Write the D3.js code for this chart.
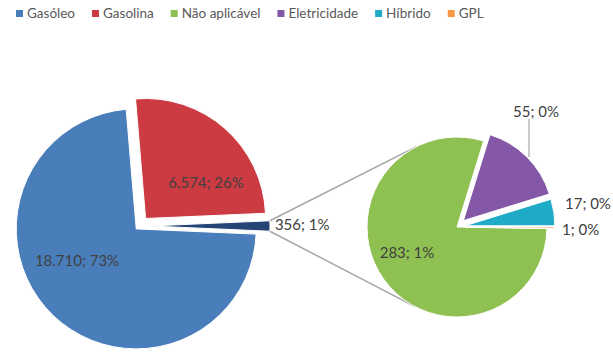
<!DOCTYPE html>
<html><head><meta charset="utf-8">
<script src="https://cdn.jsdelivr.net/npm/d3@7"></script>
<style>body{margin:0;background:#fff} text{font-family:Lato,"Open Sans",sans-serif}</style>
</head><body><svg id="c" width="613" height="364"></svg>
<script>
// ---- data ----
const categories = ["Gasóleo","Gasolina","Não aplicável","Eletricidade","Híbrido","GPL"];
const values = [18710, 6574, 283, 55, 17, 1];
const primaryCount = 2; // categories shown in the main pie; the rest go to the secondary pie

// ---- style / layout ----
const colors = ["#4A7EBB","#CC3A42","#8FC052","#8458A6","#1FAAC8","#F79646"];
const otherColor = "#244476";
const labelColor = "#404040";
const C0 = {x:139, y:226}, R1 = 120;
const S0 = {x:457, y:227}, R2 = 90;
const mainExplode = [4, 10, 11];
const secExplode = [0, 9, 8, 8];

const svg = d3.select("#c");
const loc = d3.formatLocale({decimal:",", thousands:".", grouping:[3], currency:["","€"]});
const fmt = loc.format(",d");
const total = d3.sum(values);
const lab = v => fmt(v) + "; " + Math.round(v/total*100) + "%";

// ---- legend ----
const leg = svg.append("g").attr("transform","translate(16,0)");
let lx = 0;
categories.forEach((c,i)=>{
  leg.append("rect").attr("x",lx).attr("y",10).attr("width",7).attr("height",7).attr("fill",colors[i]);
  const t = leg.append("text").attr("x",lx+11).attr("y",18).attr("font-size",13.5).attr("fill","#595959").text(c);
  lx += 11 + t.node().getComputedTextLength() + 17;
});

// ---- main pie ----
const secVals = values.slice(primaryCount);
const otherVal = d3.sum(secVals);
const mainData = values.slice(0,primaryCount).map((v,i)=>({v, color:colors[i]})).concat([{v:otherVal, color:otherColor}]);
const otherAng = 2*Math.PI*otherVal/total;
const a0 = Math.PI/2 + otherAng/2;
const pie1 = d3.pie().sort(null).value(d=>d.v).startAngle(a0).endAngle(a0+2*Math.PI);
const arc1 = d3.arc().innerRadius(0).outerRadius(R1);
const arcs1 = pie1(mainData);
const off = (a,d)=>[d*Math.sin(a), -d*Math.cos(a)];
const mid = a => (a.startAngle+a.endAngle)/2;

// secondary pie
const secAng = 2*Math.PI*secVals[secVals.length-1]/otherVal;
const b0 = Math.PI/2 + secAng;
const pie2 = d3.pie().sort(null).value(d=>d.v).startAngle(b0).endAngle(b0+2*Math.PI);
const arc2 = d3.arc().innerRadius(0).outerRadius(R2);
const arcs2 = pie2(secVals.map((v,i)=>({v, color:colors[primaryCount+i]})));

// connector lines (other slice corners -> tangent points of secondary pie)
const oArc = arcs1[arcs1.length-1];
const oo = off(mid(oArc), mainExplode[arcs1.length-1]);
const oc = {x:C0.x+oo[0], y:C0.y+oo[1]};
const corner = a => ({x: oc.x + R1*Math.sin(a), y: oc.y - R1*Math.cos(a)});
const pTop = corner(oArc.startAngle), pBot = corner(oArc.endAngle);
function tangent(p, sign){
  const dx = p.x - S0.x, dy = p.y - S0.y;
  const d = Math.hypot(dx,dy);
  const ang = Math.atan2(dx, -dy);
  const t = ang + sign*Math.acos(R2/d);
  return {x:S0.x + R2*Math.sin(t), y:S0.y - R2*Math.cos(t)};
}
const tTop = tangent(pTop, 1), tBot = tangent(pBot, -1);
svg.append("line").attr("x1",pTop.x).attr("y1",pTop.y).attr("x2",tTop.x).attr("y2",tTop.y).attr("stroke","#A6A6A6").attr("stroke-width",1.5);
svg.append("line").attr("x1",pBot.x).attr("y1",pBot.y).attr("x2",tBot.x).attr("y2",tBot.y).attr("stroke","#A6A6A6").attr("stroke-width",1.5);

svg.append("g").selectAll("path").data(arcs1).join("path")
  .attr("d",arc1)
  .attr("transform",(d,i)=>{const o=off(mid(d),mainExplode[i]);return `translate(${C0.x+o[0]},${C0.y+o[1]})`;})
  .attr("fill",d=>d.data.color).attr("stroke","#fff").attr("stroke-width",1);

svg.append("g").selectAll("path").data(arcs2).join("path")
  .attr("d",arc2)
  .attr("transform",(d,i)=>{const o=off(mid(d),secExplode[i]);return `translate(${S0.x+o[0]},${S0.y+o[1]})`;})
  .attr("fill",d=>d.data.color).attr("stroke","#fff").attr("stroke-width",1);

// ---- labels ----
const fs = 15;
function label(x,y,txt,anchor){
  svg.append("text").attr("x",x).attr("y",y).attr("dy","0.35em").attr("text-anchor",anchor||"middle")
    .attr("font-size",fs).attr("fill",labelColor).text(txt);
}
// main pie labels (offsets from pie centre)
const mainLabelOff = [[-62,35],[67,-43]];
values.slice(0,primaryCount).forEach((v,i)=>label(C0.x+mainLabelOff[i][0], C0.y+mainLabelOff[i][1], lab(v)));
label(pTop.x+5, (pTop.y+pBot.y)/2 - 1, lab(otherVal), "start");

// secondary labels
const secLabelOff = [[-50,26,"middle"],[79,-115,"middle"],[108,-23,"start"],[105,3,"start"]];
secVals.forEach((v,i)=>label(S0.x+secLabelOff[i][0], S0.y+secLabelOff[i][1], lab(v), secLabelOff[i][2]));

// leader line for the purple slice
const pa = arcs2[1], po = off(mid(pa), secExplode[1]);
const lp = {x:S0.x+po[0]+R2*Math.sin(mid(pa)), y:S0.y+po[1]-R2*Math.cos(mid(pa))};
svg.append("line").attr("x1",lp.x+2).attr("y1",lp.y).attr("x2",lp.x+2).attr("y2",S0.y+secLabelOff[1][1]+7)
  .attr("stroke","#A6A6A6").attr("stroke-width",1.2);
</script></body></html>
